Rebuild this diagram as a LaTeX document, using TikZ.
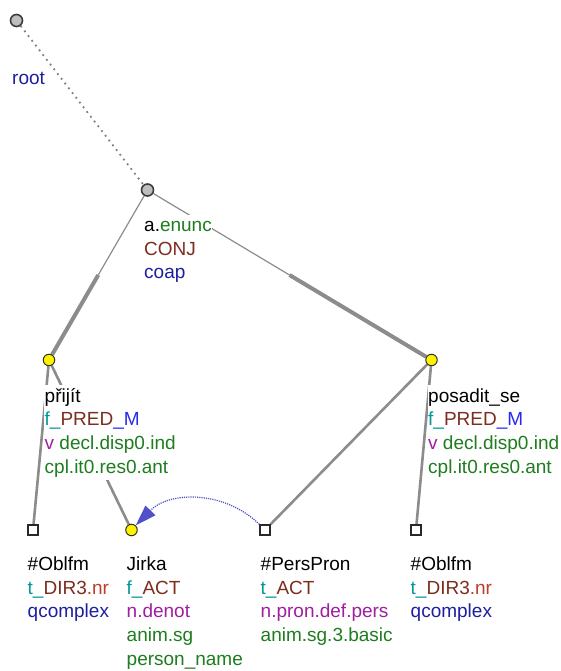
\documentclass[tikz,border=0pt]{standalone}
\usepackage{fontspec}
\setmainfont{Liberation Sans}
\usetikzlibrary{arrows.meta,calc}
\pgfdeclarelayer{bg}
\pgfsetlayers{bg,main}
\definecolor{tealc}{RGB}{0,150,150}
\definecolor{brownc}{RGB}{125,45,30}
\definecolor{redc}{RGB}{190,60,45}
\definecolor{bluec}{RGB}{40,40,240}
\definecolor{navyc}{RGB}{30,30,160}
\definecolor{purplec}{RGB}{160,30,160}
\definecolor{greenc}{RGB}{30,125,30}
\definecolor{edgegray}{RGB}{140,140,140}
\definecolor{dotgray}{RGB}{130,130,130}
\definecolor{corefc}{RGB}{80,80,200}
\definecolor{nodegray}{RGB}{190,190,190}
\begin{document}
\begin{tikzpicture}[x=1pt,y=-1pt,
  every node/.style={font=\fontsize{19}{24}\selectfont},
  gnode/.style={circle,fill=nodegray,draw={rgb,255:red,60;green,60;blue,60},line width=1.6pt,minimum size=12pt,inner sep=0pt},
  ynode/.style={circle,fill=yellow,draw={rgb,255:red,50;green,50;blue,30},line width=1pt,minimum size=11.5pt,inner sep=0pt},
  snode/.style={rectangle,fill=white,draw={rgb,255:red,40;green,40;blue,40},line width=1.3pt,minimum size=10pt,inner sep=0pt},
  lbl/.style={anchor=base west,fill=white,inner xsep=0.5pt,inner ysep=0pt,text height=17pt,text depth=6.7pt},
  edge/.style={draw=edgegray,line width=2.6pt},
  thinedge/.style={draw=edgegray,line width=1.2pt},
  thickedge/.style={draw=edgegray,line width=4pt},
  rootedge/.style={draw=dotgray,line width=1.8pt,dash pattern=on 1.8pt off 4.2pt},
  coref/.style={draw=corefc,line width=1.2pt,densely dotted,-{Triangle[length=21pt,width=14pt,fill=corefc,line width=0pt]}}
]
\useasboundingbox (0,0) rectangle (561,671);
% tree nodes
\node[gnode] (root) at (16.5,20.5) {};
\node[gnode] (aenunc) at (147.5,190) {};
\node[ynode] (prijit) at (49,360) {};
\node[ynode] (posadit) at (431.5,360) {};
\node[snode] (obl1) at (33,530) {};
\node[ynode] (jirka) at (131.5,530) {};
\node[snode] (pers) at (265,530) {};
\node[snode] (obl2) at (416,530) {};
% edges
\begin{pgfonlayer}{bg}
\draw[rootedge] (root) -- (aenunc);
\draw[thinedge] (aenunc) -- ($(aenunc)!0.5!(prijit)$);
\draw[thickedge] ($(aenunc)!0.5!(prijit)$) -- (prijit);
\draw[thinedge] (aenunc) -- ($(aenunc)!0.5!(posadit)$);
\draw[thickedge] ($(aenunc)!0.5!(posadit)$) -- (posadit);
\draw[edge] (prijit) -- (obl1);
\draw[edge] (prijit) -- (jirka);
\draw[edge] (posadit) -- (pers);
\draw[edge] (posadit) -- (obl2);
\end{pgfonlayer}
% labels
\path (root) ++(-5,64.5) node[lbl] (rootA) {\color{navyc}root};
\path (aenunc) ++(-4,41.5) node[lbl] (aenuncA) {a.{\color{greenc}enunc}}
  ++(0,23.7) node[lbl] (aenuncB) {\color{brownc}CONJ}
  ++(0,23.7) node[lbl] (aenuncC) {\color{navyc}coap};
\path (prijit) ++(-5,42) node[lbl] (prijitA) {přijít}
  ++(0,23.7) node[lbl] (prijitB) {{\color{tealc}f\_}{\color{brownc}PRED}{\color{bluec}\_M}}
  ++(0,23.7) node[lbl] (prijitC) {{\color{purplec}v} {\color{greenc}decl.disp0.ind}}
  ++(0,23.7) node[lbl] (prijitD) {\color{greenc}cpl.it0.res0.ant};
\path (posadit) ++(-4,42) node[lbl] (posaditA) {posadit\_se}
  ++(0,23.7) node[lbl] (posaditB) {{\color{tealc}f\_}{\color{brownc}PRED}{\color{bluec}\_M}}
  ++(0,23.7) node[lbl] (posaditC) {{\color{purplec}v} {\color{greenc}decl.disp0.ind}}
  ++(0,23.7) node[lbl] (posaditD) {\color{greenc}cpl.it0.res0.ant};
\path (obl1) ++(-6,40.5) node[lbl] (obl1A) {\#Oblfm}
  ++(0,23.7) node[lbl] (obl1B) {{\color{tealc}t\_}{\color{brownc}DIR3}{\color{redc}.nr}}
  ++(0,23.7) node[lbl] (obl1C) {\color{navyc}qcomplex};
\path (jirka) ++(-5.5,40.5) node[lbl] (jirkaA) {Jirka}
  ++(0,23.7) node[lbl] (jirkaB) {{\color{tealc}f\_}{\color{brownc}ACT}}
  ++(0,23.7) node[lbl] (jirkaC) {\color{purplec}n.denot}
  ++(0,23.7) node[lbl] (jirkaD) {\color{greenc}anim.sg}
  ++(0,23.7) node[lbl] (jirkaE) {\color{greenc}person\_name};
\path (pers) ++(-5,40.5) node[lbl] (persA) {\#PersPron}
  ++(0,23.7) node[lbl] (persB) {{\color{tealc}t\_}{\color{brownc}ACT}}
  ++(0,23.7) node[lbl] (persC) {\color{purplec}n.pron.def.pers}
  ++(0,23.7) node[lbl] (persD) {\color{greenc}anim.sg.3.basic};
\path (obl2) ++(-6,40.5) node[lbl] (obl2A) {\#Oblfm}
  ++(0,23.7) node[lbl] (obl2B) {{\color{tealc}t\_}{\color{brownc}DIR3}{\color{redc}.nr}}
  ++(0,23.7) node[lbl] (obl2C) {\color{navyc}qcomplex};
% coreference arrow
\draw[coref] (pers.north west) to[bend right=45] (jirka);
\end{tikzpicture}
\end{document}
